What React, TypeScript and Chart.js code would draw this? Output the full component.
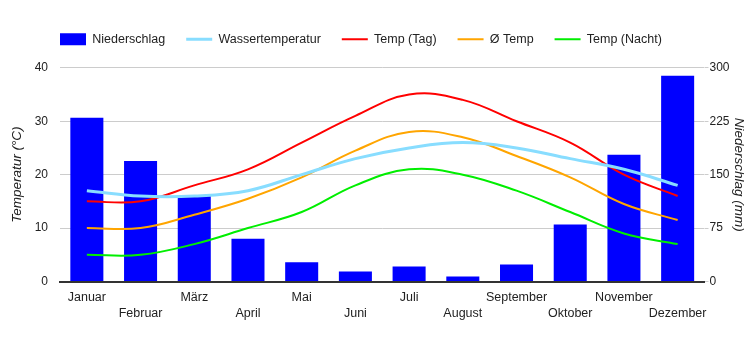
import React, { useEffect, useRef } from 'react';
import { Chart, registerables } from 'chart.js';

Chart.register(...registerables);

const months = ['Januar', 'Februar', 'März', 'April', 'Mai', 'Juni', 'Juli', 'August', 'September', 'Oktober', 'November', 'Dezember'];
const niederschlag = [230, 169, 120, 60, 27, 14, 21, 7, 24, 80, 178, 289];
const wassertemperatur = [17, 16, 16, 17, 20, 23, 25, 26, 25, 23, 21, 18];
const tempTag = [15, 15, 18, 21, 26, 31, 35, 34, 30, 26, 20, 16];
const tempAvg = [10, 10, 12.5, 15.5, 19.5, 24.5, 28, 27, 23.5, 19.5, 14.5, 11.5];
const tempNacht = [5, 5, 7, 10, 13, 18, 21, 20, 17, 13, 9, 7];
const tempRange = { min: 0, max: 40, step: 10 };
const rainRange = { min: 0, max: 300, step: 75 };

const FONT = '"Liberation Sans", Arial, sans-serif';

const legendOffset = {
  id: 'legendOffset',
  afterLayout(chart: any) {
    const l = chart.legend;
    if (!l) return;
    l.left += 34;
    l.right += 34;
    l.top -= 12.25;
    l.bottom -= 12.25;
  },
};

export default function App() {
  const ref = useRef<HTMLCanvasElement>(null);

  useEffect(() => {
    document.body.style.margin = '0';
    if (!ref.current) return;
    const chart = new Chart(ref.current, {
      type: 'bar',
      data: {
        labels: months,
        datasets: [
          {
            type: 'bar',
            label: 'Niederschlag',
            data: niederschlag,
            backgroundColor: '#0000ff',
            borderWidth: 0,
            yAxisID: 'yRain',
            order: 1,
            barPercentage: 0.615,
            categoryPercentage: 1,
            pointStyle: 'rect',
          },
          {
            type: 'line',
            label: 'Wassertemperatur',
            data: wassertemperatur,
            borderColor: '#88ddff',
            backgroundColor: '#88ddff',
            borderWidth: 3,
            pointRadius: 0,
            tension: 0.4,
            yAxisID: 'yTemp',
            order: 0,
            pointStyle: 'line',
          },
          {
            type: 'line',
            label: 'Temp (Tag)',
            data: tempTag,
            borderColor: '#ff0000',
            backgroundColor: '#ff0000',
            borderWidth: 2,
            pointRadius: 0,
            tension: 0.4,
            yAxisID: 'yTemp',
            order: 0,
            pointStyle: 'line',
          },
          {
            type: 'line',
            label: 'Ø Temp',
            data: tempAvg,
            borderColor: '#ffa500',
            backgroundColor: '#ffa500',
            borderWidth: 2,
            pointRadius: 0,
            tension: 0.4,
            yAxisID: 'yTemp',
            order: 0,
            pointStyle: 'line',
          },
          {
            type: 'line',
            label: 'Temp (Nacht)',
            data: tempNacht,
            borderColor: '#00ee00',
            backgroundColor: '#00ee00',
            borderWidth: 2,
            pointRadius: 0,
            tension: 0.4,
            yAxisID: 'yTemp',
            order: 0,
            pointStyle: 'line',
          },
        ] as any,
      },
      options: {
        animation: false,
        responsive: true,
        maintainAspectRatio: false,
        layout: { padding: { top: 24.3, left: 5, right: 0, bottom: 20 } },
        plugins: {
          tooltip: { enabled: false },
          legend: {
            display: true,
            position: 'top',
            align: 'start',
            labels: {
              usePointStyle: true,
              pointStyleWidth: 26,
              boxHeight: 12,
              padding: 21,
              color: '#222',
              font: { family: FONT, size: 12.5 },
              sort: (a: any, b: any) => a.datasetIndex - b.datasetIndex,
            },
          },
        },
        scales: {
          x: {
            grid: { display: false, drawTicks: false },
            border: { display: true, color: '#333', width: 2 },
            ticks: {
              autoSkip: false,
              maxRotation: 0,
              minRotation: 0,
              padding: 8,
              color: '#222',
              font: { family: FONT, size: 12.5, lineHeight: 1.3 },
              callback: (_v: any, i: number) => (i % 2 ? ['', months[i]] : months[i]),
            },
          },
          yTemp: {
            position: 'left',
            min: tempRange.min,
            max: tempRange.max,
            grid: { color: '#cccccc', drawTicks: false },
            border: { display: false },
            ticks: { stepSize: tempRange.step, padding: 12, color: '#222', font: { family: FONT, size: 12 } },
            title: {
              display: true,
              text: 'Temperatur (°C)',
              color: '#222',
              font: { family: FONT, size: 13.5, style: 'italic' },
              padding: { top: 4, bottom: 4 },
            },
            afterFit: (s: any) => {
              s.width = 55;
            },
          },
          yRain: {
            position: 'right',
            min: rainRange.min,
            max: rainRange.max,
            grid: { color: '#cccccc', drawOnChartArea: false, tickLength: 4 },
            border: { display: false },
            ticks: { stepSize: rainRange.step, padding: 1, color: '#222', font: { family: FONT, size: 12 } },
            title: {
              display: true,
              text: 'Niederschlag (mm)',
              color: '#222',
              font: { family: FONT, size: 13.5, style: 'italic' },
              padding: { top: 3, bottom: 2 },
            },
            afterFit: (s: any) => {
              s.width = 45.5;
            },
          },
        },
      } as any,
      plugins: [legendOffset],
    });
    return () => chart.destroy();
  }, []);

  return (
    <div style={{ position: 'relative', width: 750, height: 350 }}>
      <canvas ref={ref} />
    </div>
  );
}
